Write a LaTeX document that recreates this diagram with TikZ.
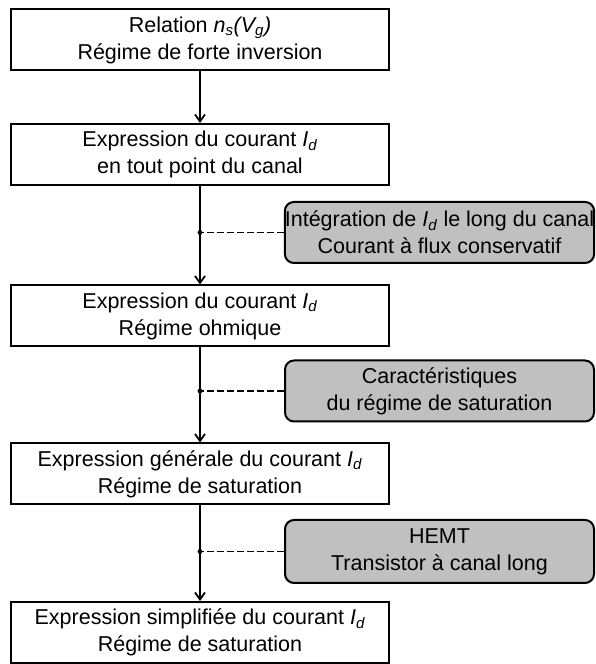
\documentclass[tikz,border=0pt]{standalone}
\usepackage{fontspec}
\setmainfont{Liberation Sans}
\usetikzlibrary{arrows.meta}
\definecolor{boxgray}{RGB}{192,192,192}
\newcommand{\Id}{\textit{I}\textsubscript{\textit{d}}}
\begin{document}
\begin{tikzpicture}[x=1pt,y=1pt,
  every node/.style={font=\fontsize{21.5}{27}\selectfont, align=center, inner sep=0pt},
  wbox/.style={draw, line width=2pt, fill=white, minimum width=378pt, minimum height=61pt},
  gbox/.style={draw, line width=2pt, fill=boxgray, rounded corners=9pt, minimum width=309pt, minimum height=61pt},
  flow/.style={line width=1.8pt, -{Straight Barb[length=7pt,width=10pt,line width=1.8pt]}},
  link/.style={line width=1.8pt, dash pattern=on 7pt off 3pt}]
\useasboundingbox (0,0) rectangle (595,664);
\node[wbox] (b1) at (200,624) {Relation \textit{n\textsubscript{s}(V\textsubscript{g})}\\Régime de forte inversion};
\node[wbox] (b2) at (200,509.5) {Expression du courant \Id\\en tout point du canal};
\node[wbox] (b3) at (200,348) {Expression du courant \Id\\Régime ohmique};
\node[wbox] (b4) at (200,190) {Expression générale du courant \Id\\Régime de saturation};
\node[wbox] (b5) at (200,31.5) {Expression simplifiée du courant \Id\\Régime de saturation};
\node[gbox] (g1) at (439.5,431.5) {Intégration de \Id{} le long du canal\\Courant à flux conservatif};
\node[gbox] (g2) at (439.5,273) {Caractéristiques\\du régime de saturation};
\node[gbox, minimum height=63pt] (g3) at (439.5,112.5) {HEMT\\Transistor à canal long};
\draw[flow] (b1) -- (b2);
\draw[flow] (b2) -- (b3);
\draw[flow] (b3) -- (b4);
\draw[flow] (b4) -- (b5);
\coordinate (d1) at (g1.west -| b2.south);
\coordinate (d2) at (g2.west -| b3.south);
\coordinate (d3) at (g3.west -| b4.south);
\draw[link] (g1.west) -- (d1);
\draw[link] (g2.west) -- (d2);
\draw[link] (g3.west) -- (d3);
\fill (d1) circle (2.4pt);
\fill (d2) circle (2.4pt);
\fill (d3) circle (2.4pt);
\end{tikzpicture}
\end{document}
